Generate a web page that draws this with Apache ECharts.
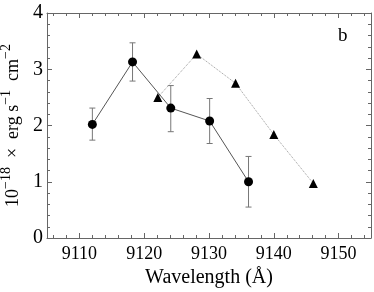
<!DOCTYPE html>
<html><head><meta charset="utf-8">
<script src="https://cdn.jsdelivr.net/npm/echarts@6/dist/echarts.min.js"></script>
<style>html,body{margin:0;padding:0;background:#fff}#c{width:374px;height:292px}</style>
</head><body><div id="c"></div>
<script>
var circleX = [9112, 9118.2, 9124.1, 9130.1, 9136.1];
var circleY = [2.02, 3.13, 2.31, 2.08, 1.0];
var errLow  = [1.74, 2.79, 1.89, 1.68, 0.55];
var errHigh = [2.31, 3.47, 2.71, 2.48, 1.45];
var triX = [9122.1, 9128.1, 9134.1, 9140.0, 9146.1];
var triY = [2.50, 3.27, 2.75, 1.84, 0.97];
var xMin = 9105, xMax = 9155;
var yTicks = [0, 1, 2, 3, 4];

var F = 'Liberation Serif';
var frame = '#666';
var chart = echarts.init(document.getElementById('c'));
var circ = circleX.map(function(x,i){return [x, circleY[i]];});
var tri = triX.map(function(x,i){return [x, triY[i]];});
var errs = circleX.map(function(x,i){return [x, errLow[i], errHigh[i]];});

function axisBase(pos, showLabel) {
  return {
    type:'value', position:pos, min:xMin, max:xMax, splitNumber:5,
    axisLine:{show:true, onZero:false, lineStyle:{color:frame, width:1}},
    axisTick:{show:true, inside:true, length:5, lineStyle:{color:frame}},
    minorTick:{show:true, splitNumber:5, length:3, lineStyle:{color:frame}},
    splitLine:{show:false},
    axisLabel:{show:showLabel, color:'#000', fontFamily:F, fontSize:18, margin:7,
      formatter:function(v){return (v%10===0)? String(v):'';}}
  };
}
function yBase(pos, showLabel) {
  return {
    type:'value', position:pos, min:0, max:4, interval:1,
    axisLine:{show:true, onZero:false, lineStyle:{color:frame, width:1}},
    axisTick:{show:true, inside:true, length:5, lineStyle:{color:frame}},
    minorTick:{show:true, splitNumber:5, length:3, lineStyle:{color:frame}},
    splitLine:{show:false},
    axisLabel:{show:showLabel, color:'#000', fontFamily:F, fontSize:20, margin:4,
      formatter:function(v){return yTicks.indexOf(v)>=0 ? String(v):'';}}
  };
}
var xb = axisBase('bottom', true);
xb.name = 'Wavelength (Å)'; xb.nameLocation='middle'; xb.nameGap=24;
xb.nameTextStyle = {fontFamily:F, fontSize:20, color:'#000'};
var xt = axisBase('top', false);
var yl = yBase('left', true);
yl.name = '{a|10}{s|−18}{a|  ×  erg s}{s|−1}{a|  cm}{s|−2}';
yl.nameLocation='middle'; yl.nameGap=22;
yl.nameTextStyle = {fontFamily:F, color:'#000', rich:{
  a:{fontFamily:F, fontSize:18, color:'#000', verticalAlign:'bottom', lineHeight:23},
  s:{fontFamily:F, fontSize:14, color:'#000', verticalAlign:'top', lineHeight:23}
}};
var yr = yBase('right', false);

chart.setOption({
  animation:false,
  grid:{left:47, right:3, top:13, bottom:54, containLabel:false, outerBoundsMode:'none'},
  xAxis:[xb, xt],
  yAxis:[yl, yr],
  graphic:[{type:'text', left:338, top:27, style:{text:'b', fontFamily:F, fontSize:19, fill:'#000'}}],
  series:[
    {type:'custom', xAxisIndex:0, yAxisIndex:0, data:errs, z:1,
      renderItem:function(params, api){
        var t = api.coord([api.value(0), api.value(2)]);
        var b = api.coord([api.value(0), api.value(1)]);
        var w = 3;
        var st = {stroke:'#777', lineWidth:1};
        return {type:'group', children:[
          {type:'line', shape:{x1:t[0], y1:t[1], x2:b[0], y2:b[1]}, style:st},
          {type:'line', shape:{x1:t[0]-w, y1:t[1], x2:t[0]+w, y2:t[1]}, style:st},
          {type:'line', shape:{x1:b[0]-w, y1:b[1], x2:b[0]+w, y2:b[1]}, style:st}
        ]};
      }},
    {type:'line', data:tri, symbol:'triangle', symbolSize:9, z:2,
      itemStyle:{color:'#000'}, lineStyle:{color:'#999', width:1, type:'dotted'}},
    {type:'line', data:circ, symbol:'circle', symbolSize:9, z:3,
      itemStyle:{color:'#000'}, lineStyle:{color:'#555', width:1}}
  ]
});
</script></body></html>
